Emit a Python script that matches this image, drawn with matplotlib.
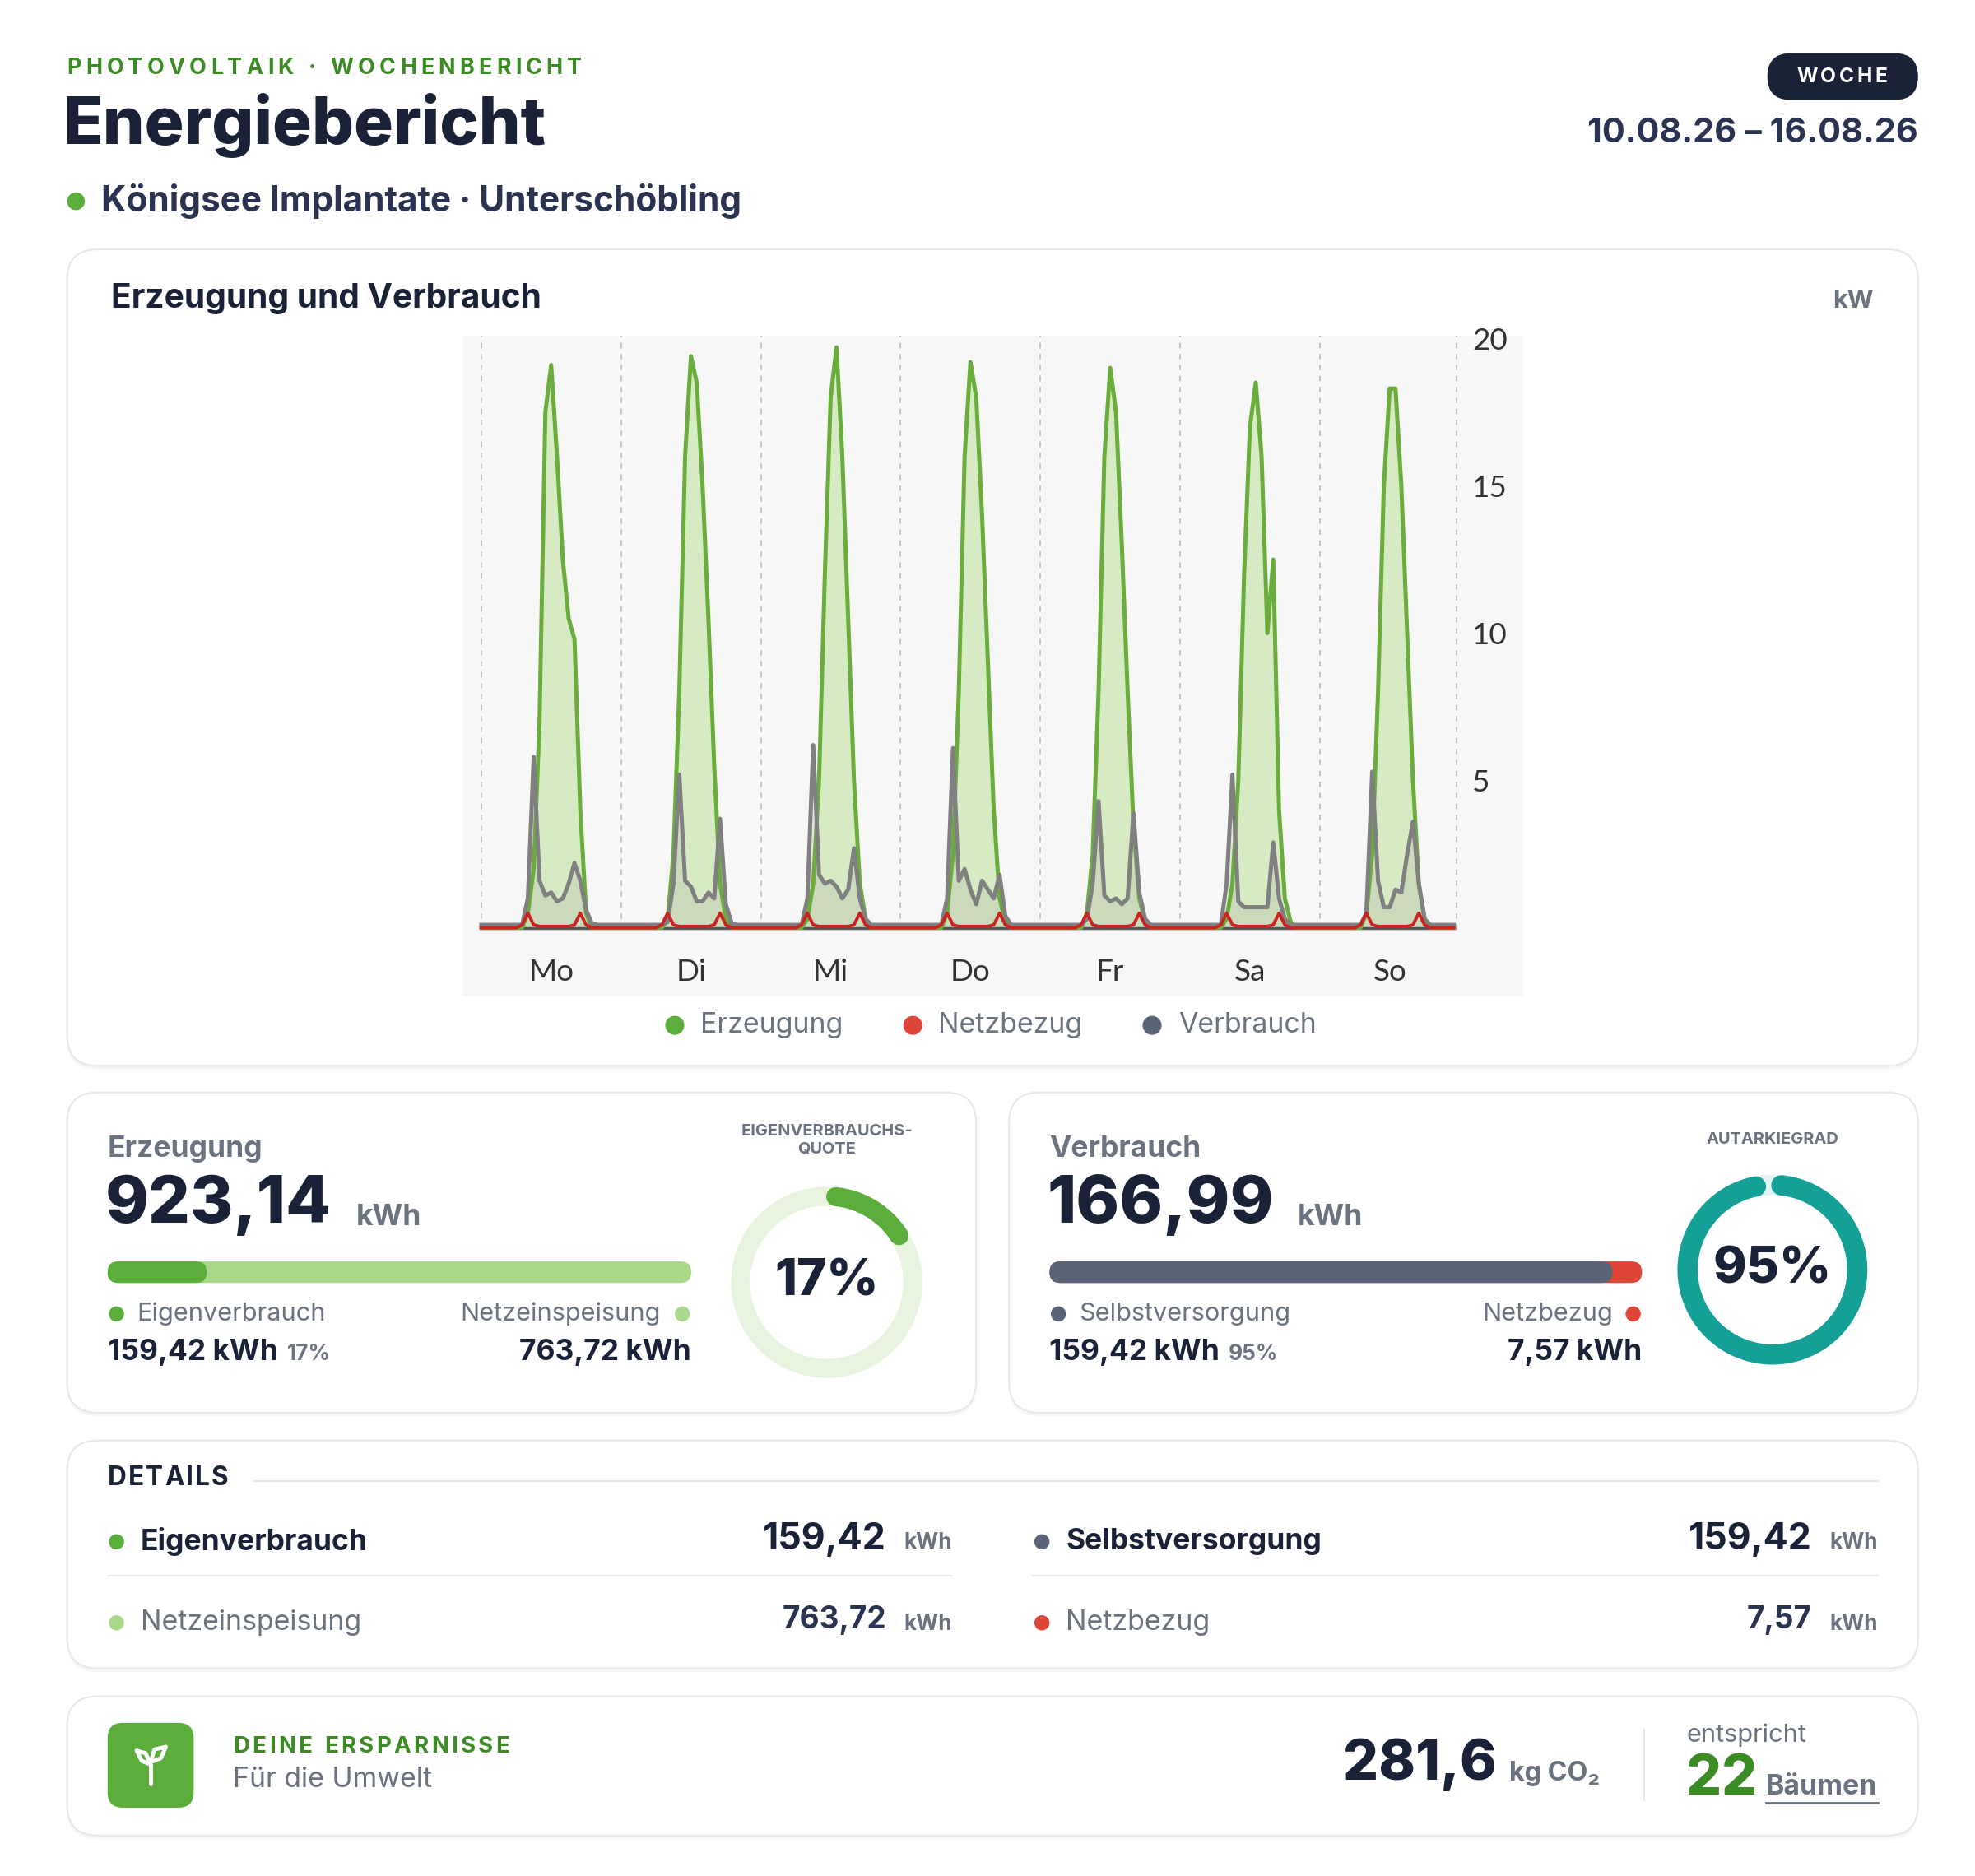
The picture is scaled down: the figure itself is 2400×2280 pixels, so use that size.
import numpy as np
import matplotlib
matplotlib.use("Agg")
import matplotlib.pyplot as plt
from matplotlib.patches import FancyBboxPatch, Circle

plt.rcParams["font.family"] = ["Inter", "DejaVu Sans"]

# ---------------- data ----------------
DAYS = ["Mo", "Di", "Mi", "Do", "Fr", "Sa", "So"]
Z8 = [0] * 8
GEN_KW = [
    Z8 + [0.5, 2.0, 7.0, 17.5, 19.1, 16.0, 12.5, 10.5, 9.8, 4.0, 0.5, 0, 0, 0, 0, 0],
    Z8 + [0.3, 2.5, 8.0, 16.0, 19.4, 18.5, 15.0, 10.5, 5.5, 1.5, 0.3, 0, 0, 0, 0, 0],
    Z8 + [0.3, 1.5, 5.0, 12.0, 18.0, 19.7, 16.0, 10.5, 5.0, 1.5, 0.3, 0, 0, 0, 0, 0],
    Z8 + [0.5, 2.5, 8.0, 16.0, 19.2, 18.0, 14.0, 9.0, 4.0, 1.0, 0.2, 0, 0, 0, 0, 0],
    Z8 + [0.5, 2.5, 8.0, 16.0, 19.0, 17.5, 13.0, 8.0, 3.5, 1.0, 0.2, 0, 0, 0, 0, 0],
    Z8 + [0.3, 1.5, 5.0, 12.0, 17.0, 18.5, 16.0, 10.0, 12.5, 4.0, 1.0, 0.2, 0, 0, 0, 0],
    Z8 + [0.5, 2.5, 8.0, 15.0, 18.3, 18.3, 15.0, 10.0, 5.0, 1.5, 0.3, 0, 0, 0, 0, 0],
]
N8 = [0.1] * 8
LOAD_KW = [
    N8 + [1.0, 5.8, 1.6, 1.1, 1.2, 0.9, 1.0, 1.5, 2.2, 1.6, 0.6, 0.15] + [0.1] * 4,
    N8 + [0.2, 1.5, 5.2, 1.6, 1.4, 0.9, 0.9, 1.2, 1.0, 3.7, 0.8, 0.15] + [0.1] * 4,
    N8 + [1.0, 6.2, 1.8, 1.5, 1.6, 1.4, 1.0, 1.3, 2.7, 1.0, 0.3, 0.1] + [0.1] * 4,
    N8 + [1.0, 6.1, 1.6, 2.0, 1.3, 0.8, 1.6, 1.3, 1.0, 1.8, 0.4, 0.1] + [0.1] * 4,
    N8 + [0.3, 1.5, 4.3, 1.1, 0.9, 1.0, 0.8, 1.0, 3.9, 1.2, 0.3, 0.1] + [0.1] * 4,
    N8 + [1.5, 5.2, 0.9, 0.7, 0.7, 0.7, 0.7, 0.7, 2.9, 1.0, 0.3, 0.1] + [0.1] * 4,
    N8 + [0.5, 5.3, 1.6, 0.7, 0.7, 1.3, 1.2, 2.5, 3.6, 1.5, 0.3, 0.1] + [0.1] * 4,
]
GRID_DAY = [0] * 7 + [0.1, 0.5, 0.1, 0.05, 0.05, 0.05, 0.05, 0.05, 0.05, 0.1, 0.5, 0.1] + [0] * 5
GRID_KW = [GRID_DAY] * 7

ERZEUGUNG = "923,14"
VERBRAUCH = "166,99"
EIGEN = "159,42"
EINSPEISUNG = "763,72"
NETZBEZUG = "7,57"
EIGEN_PCT = 17
AUTARK_PCT = 95
CO2 = "281,6"
TREES = "22"

NAVY = "#1A2238"
TXT = "#2A3350"
GRAY = "#6B7280"
GREEN = "#5BAE3C"
DKGREEN = "#3C8C25"
LTGREEN = "#A9D88B"
RED = "#E0453A"
SLATE = "#5A6478"
TEAL = "#14A096"

W, H = 1560, 1482
K = 2400 / W


def fs(px):
    return px * K * 72 / 100


fig = plt.figure(figsize=(24, 22.8), dpi=100)
bg = fig.add_axes([0, 0, 1, 1])
bg.set_xlim(0, W)
bg.set_ylim(H, 0)
bg.axis("off")
renderer = fig.canvas.get_renderer()


def card(x0, y0, x1, y1):
    bg.add_patch(FancyBboxPatch((x0, y0 + 3), x1 - x0, y1 - y0,
                                boxstyle="round,pad=0,rounding_size=24",
                                fc="#000000", ec="none", alpha=0.03))
    bg.add_patch(FancyBboxPatch((x0, y0), x1 - x0, y1 - y0,
                                boxstyle="round,pad=0,rounding_size=24",
                                fc="white", ec="#E6E8EC", lw=1.5))


def t(x, y, s, px, color=NAVY, weight="normal", ha="left", va="center", **kw):
    return bg.text(x, y, s, fontsize=fs(px), color=color, fontweight=weight,
                   ha=ha, va=va, **kw)


def width_of(txt):
    return txt.get_window_extent(renderer).width / K


def spaced(x, y, s, px, color, spacing, ha="left"):
    # draw letter-spaced caps text char by char
    widths = []
    for ch in s:
        tmp = t(0, 0, ch if ch != " " else "i", px, color, "bold")
        widths.append(width_of(tmp))
        tmp.remove()
    total = sum(widths) + spacing * (len(s) - 1)
    if ha == "center":
        x -= total / 2
    for ch, w in zip(s, widths):
        t(x, y, ch, px, color, "bold")
        x += w + spacing


def dot(x, y, c, r=6):
    bg.add_patch(Circle((x, y), r, fc=c, ec="none"))


def bar(x0, x1, y, h, c):
    bg.add_patch(FancyBboxPatch((x0, y - h / 2), x1 - x0, h,
                                boxstyle=f"round,pad=0,rounding_size={h/2}",
                                fc=c, ec="none"))


# ---------------- header ----------------
spaced(53, 54, "PHOTOVOLTAIK · WOCHENBERICHT", 17.5, DKGREEN, 3.4)
t(50, 99, "Energiebericht", 52, NAVY, "heavy")
dot(60, 159, GREEN, 7)
t(80, 159, "Königsee Implantate · Unterschöbling", 27.5, TXT, "bold")
bg.add_patch(FancyBboxPatch((1396, 42), 119, 37, boxstyle="round,pad=0,rounding_size=18.5",
                            fc=NAVY, ec="none"))
spaced(1455, 61, "WOCHE", 16, "white", 2.4, ha="center")
t(1515, 105, "10.08.26 – 16.08.26", 27, TXT, "bold", ha="right")

# ---------------- chart card ----------------
card(53, 197, 1515, 842)
t(88, 236, "Erzeugung und Verbrauch", 26.5, NAVY, "bold")
t(1480, 238, "kW", 20, GRAY, "bold", ha="right")
for xd, xt, lab, c in [(533, 553, "Erzeugung", GREEN), (721, 741, "Netzbezug", RED),
                       (910, 931, "Verbrauch", SLATE)]:
    dot(xd, 810, c, 7.5)
    t(xt, 810, lab, 22, GRAY)

ax = fig.add_axes([365 / W, 1 - 787 / H, 838 / W, 522 / H])
ax.set_facecolor("#F7F7F7")
hours = np.arange(7 * 24)
gen = np.concatenate(GEN_KW)
load = np.concatenate(LOAD_KW)
grid = np.concatenate(GRID_KW)
ax.fill_between(hours, gen, color="#D6EBC3", lw=0)
ax.fill_between(hours, load, color="#9A9A9A", alpha=0.2, lw=0)
ax.plot(hours, gen, color="#6AAD3D", lw=3.6, solid_joinstyle="round")
ax.plot(hours, load, color="#808080", lw=3.6, solid_joinstyle="round")
ax.plot(hours, grid, color="#CC2222", lw=2.8)
ax.plot([0, 167], [0, 0], color="#555555", lw=2.5, zorder=1)
for d in range(8):
    ax.axvline(d * 24 - 0.5 * (d == 7), ymin=0.1, color="#BBBBBB", lw=1.2, ls=(0, (4, 4)), zorder=0)
ax.set_xlim(-3.3, 178.9)
ax.set_ylim(-2.32, 20.1)
ax.set_yticks([5, 10, 15, 20])
ax.set_xticks([d * 24 + 12 for d in range(7)])
ax.set_xticklabels(DAYS)
ax.tick_params(axis="y", left=False, right=True, labelleft=False, labelright=True,
               length=0, pad=-fs(40), labelsize=fs(24), labelcolor="#333333")
ax.tick_params(axis="x", length=0, pad=-fs(30), labelsize=fs(24), labelcolor="#333333")
for lab in ax.get_xticklabels() + ax.get_yticklabels():
    lab.set_family(["Lato", "DejaVu Sans"])
for s in ax.spines.values():
    s.set_visible(False)


def donut(cx, cy, r, width, pct, color, track):
    th = np.linspace(0, 2 * np.pi, 300)
    bg.plot(cx + r * np.cos(th), cy + r * np.sin(th), color=track,
            lw=width * K * 0.72, solid_capstyle="butt")
    start = np.deg2rad(-90 + 6)
    th = np.linspace(start, start + 2 * np.pi * pct / 100 - np.deg2rad(10), 300)
    bg.plot(cx + r * np.cos(th), cy + r * np.sin(th), color=color,
            lw=width * K * 0.72, solid_capstyle="round")


def value_with_pct(x, y, val, pct):
    v = t(x, y, f"{val} kWh", 23, NAVY, "bold")
    t(x + width_of(v) + 7, y + 2, f"{pct}%", 17, GRAY, "bold")


# ---------------- KPI cards ----------------
card(53, 863, 771, 1116)
t(85, 908, "Erzeugung", 23, GRAY, "bold")
t(83, 952, ERZEUGUNG, 52, NAVY, "heavy")
t(281, 962, "kWh", 23, GRAY, "bold")
bar(85, 546, 1005, 17, LTGREEN)
bar(85, 85 + (546 - 85) * EIGEN_PCT / 100, 1005, 17, GREEN)
dot(92, 1038, GREEN)
t(108, 1038, "Eigenverbrauch", 20, GRAY)
dot(539, 1038, LTGREEN)
t(522, 1038, "Netzeinspeisung", 20, GRAY, ha="right")
value_with_pct(85, 1068, EIGEN, EIGEN_PCT)
t(546, 1068, f"{EINSPEISUNG} kWh", 23, NAVY, "bold", ha="right")
t(653, 901, "EIGENVERBRAUCHS-\nQUOTE", 13, GRAY, "bold", ha="center", linespacing=1.3)
donut(653, 1013, 68, 15, EIGEN_PCT, GREEN, "#E8F4DF")
t(653, 1013, f"{EIGEN_PCT}%", 40, NAVY, "heavy", ha="center")

card(797, 863, 1515, 1116)
t(829, 908, "Verbrauch", 23, GRAY, "bold")
t(827, 952, VERBRAUCH, 52, NAVY, "heavy")
t(1025, 962, "kWh", 23, GRAY, "bold")
bar(829, 1297, 1005, 17, RED)
bar(829, 829 + (1297 - 829) * AUTARK_PCT / 100, 1005, 17, SLATE)
dot(836, 1038, SLATE)
t(852, 1038, "Selbstversorgung", 20, GRAY)
dot(1290, 1038, RED)
t(1274, 1038, "Netzbezug", 20, GRAY, ha="right")
value_with_pct(829, 1068, EIGEN, AUTARK_PCT)
t(1297, 1068, f"{NETZBEZUG} kWh", 23, NAVY, "bold", ha="right")
t(1400, 900, "AUTARKIEGRAD", 13, GRAY, "bold", ha="center")
donut(1400, 1003, 67, 16, AUTARK_PCT + 3, TEAL, "#E3F3F1")
t(1400, 1003, f"{AUTARK_PCT}%", 40, NAVY, "heavy", ha="center")

# ---------------- details ----------------
card(53, 1138, 1515, 1318)
spaced(85, 1168, "DETAILS", 20.5, NAVY, 1.4)
bg.plot([200, 1483], [1170, 1170], color="#E6E8EC", lw=1.5)
rows = [
    (85, 752, 1218, GREEN, "Eigenverbrauch", EIGEN, True),
    (85, 752, 1282, LTGREEN, "Netzeinspeisung", EINSPEISUNG, False),
    (816, 1483, 1218, SLATE, "Selbstversorgung", EIGEN, True),
    (816, 1483, 1282, RED, "Netzbezug", NETZBEZUG, False),
]
for x0, x1, y, c, lab, val, main in rows:
    dot(x0 + 7, y, c)
    if main:
        t(x0 + 26, y, lab, 23, NAVY, "bold")
        t(x1 - 52, y - 2, val, 29, NAVY, "bold", ha="right")
        bg.plot([x0, x1], [1245, 1245], color="#E6E8EC", lw=1.5)
    else:
        t(x0 + 26, y, lab, 22, GRAY)
        t(x1 - 52, y - 2, val, 24, TXT, "bold", ha="right")
    t(x1, y + 1, "kWh", 17, GRAY, "bold", ha="right")

# ---------------- savings ----------------
card(53, 1340, 1515, 1450)
bg.add_patch(FancyBboxPatch((85, 1361), 68, 67, boxstyle="round,pad=0,rounding_size=12",
                            fc=GREEN, ec="none"))
# sprout icon
bg.plot([119, 119], [1409, 1394], color="white", lw=3.5, solid_capstyle="round")
bg.plot([108, 112, 119, 119], [1383, 1391, 1394, 1394], color="white", lw=3.5,
        solid_capstyle="round", solid_joinstyle="round")
bg.plot([108, 115, 119], [1383, 1385, 1394], color="white", lw=3.5, solid_capstyle="round")
bg.plot([131, 127, 119], [1380, 1389, 1392], color="white", lw=3.5, solid_capstyle="round")
bg.plot([131, 122, 119], [1380, 1382, 1392], color="white", lw=3.5, solid_capstyle="round")
spaced(184, 1380, "DEINE ERSPARNISSE", 18, DKGREEN, 2.2)
t(184, 1406, "Für die Umwelt", 22, GRAY)
t(1182, 1394, CO2, 44, NAVY, "heavy", ha="right")
t(1192, 1401, "kg CO₂", 21, GRAY, "bold")
bg.plot([1299, 1299], [1366, 1422], color="#E6E8EC", lw=1.5)
t(1332, 1371, "entspricht", 20, GRAY)
t(1332, 1406, TREES, 44, DKGREEN, "heavy")
b = t(1395, 1412, "Bäumen", 22, GRAY, "bold")
bg.plot([1395, 1395 + width_of(b)], [1424, 1424], color=GRAY, lw=2)

fig.savefig("out.png", dpi=100, facecolor="white")
